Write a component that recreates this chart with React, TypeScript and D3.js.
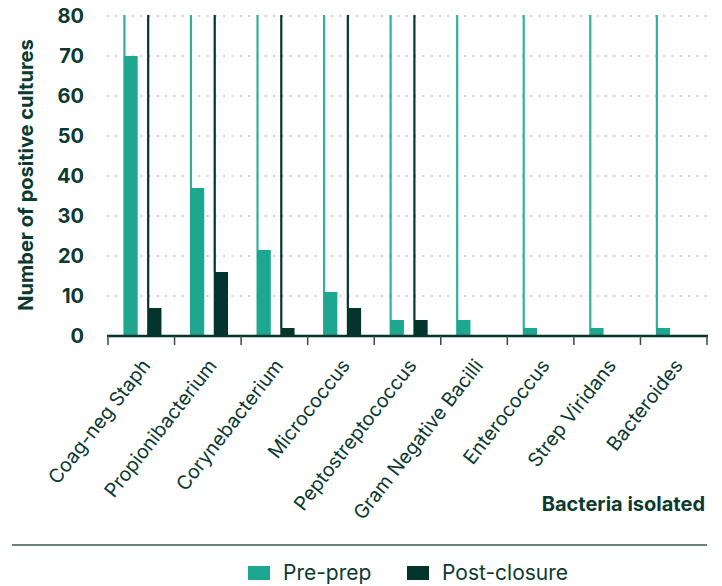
import React from "react";
import * as d3 from "d3";

const categories = [
  "Coag-neg Staph",
  "Propionibacterium",
  "Corynebacterium",
  "Micrococcus",
  "Peptostreptococcus",
  "Gram Negative Bacilli",
  "Enterococcus",
  "Strep Viridans",
  "Bacteroides",
];
const prePrep = [70, 37, 21.5, 11, 4, 4, 2, 2, 2];
const postClosure = [7, 16, 2, 7, 4, 0, 0, 0, 0];
const seriesNames = ["Pre-prep", "Post-closure"];
const yTicks = [0, 10, 20, 30, 40, 50, 60, 70, 80];

const W = 722;
const H = 586;
const TEAL = "#1da690";
const TEAL_LINE = "#30b19c";
const DARK = "#03352c";
const TEXT = "#0b3a30";
const FONT = "Inter, 'Noto Sans', sans-serif";

export default function App() {
  const x = d3.scaleBand<string>().domain(categories).range([108, 707]).padding(0);
  const inner = d3
    .scaleBand<string>()
    .domain(seriesNames)
    .range([0, x.bandwidth()])
    .paddingInner(0.4)
    .paddingOuter(0.6)
    .align(0.54);
  const y = d3.scaleLinear().domain([0, 80]).range([336, 16]);
  const colors = [TEAL, DARK];
  const lineColors = [TEAL_LINE, DARK];
  const series = [prePrep, postClosure];
  const boundaries = categories.map((c) => x(c) as number).concat([707]);

  return (
    <svg
      width={W}
      height={H}
      style={{ position: "absolute", left: 0, top: 0, display: "block", background: "#fff" }}
      fontFamily={FONT}
    >
      {/* gridlines */}
      {yTicks
        .filter((t) => t > 0)
        .map((t) => (
          <line
            key={"g" + t}
            x1={107}
            x2={708}
            y1={y(t)}
            y2={y(t)}
            stroke="#cfcfcf"
            strokeWidth={2}
            strokeDasharray="2 6.3"
          />
        ))}
      {/* y tick labels */}
      {yTicks.map((t) => (
        <text
          key={"yt" + t}
          x={84}
          y={y(t)}
          dy="0.36em"
          textAnchor="end"
          fontSize={20}
          fontWeight={700}
          fill={TEXT}
        >
          {t}
        </text>
      ))}
      {/* y title */}
      <text
        transform={`translate(33,${175}) rotate(-90)`}
        textAnchor="middle"
        fontSize={20}
        fontWeight={700}
        fill={TEXT}
      >
        Number of positive cultures
      </text>
      {/* bars + vertical lines */}
      {categories.map((c, i) =>
        series.map((s, k) => {
          const v = s[i];
          if (v <= 0) return null;
          const bx = (x(c) as number) + (inner(seriesNames[k]) as number);
          return (
            <g key={c + k}>
              <line
                x1={bx + 1}
                x2={bx + 1}
                y1={y(80) - 1}
                y2={y(v)}
                stroke={lineColors[k]}
                strokeWidth={2.2}
              />
              <rect
                x={bx}
                y={y(v)}
                width={inner.bandwidth()}
                height={y(0) - y(v)}
                fill={colors[k]}
              />
            </g>
          );
        })
      )}
      {/* x axis */}
      <line x1={107} x2={708} y1={336} y2={336} stroke={DARK} strokeWidth={2.4} />
      {boundaries.map((b, i) => (
        <line key={"tk" + i} x1={b} x2={b} y1={336} y2={345} stroke="#2f4d46" strokeWidth={1.5} />
      ))}
      {/* x labels */}
      {categories.map((c) => {
        const cx = (x(c) as number) + x.bandwidth() / 2;
        return (
          <text
            key={"xl" + c}
            transform={`translate(${cx + 10},${366}) rotate(-52)`}
            textAnchor="end"
            fontSize={19.5}
            fontWeight={400}
            fill={TEXT}
          >
            {c}
          </text>
        );
      })}
      {/* x title */}
      <text x={705} y={511} textAnchor="end" fontSize={20} fontWeight={700} fill={TEXT}>
        Bacteria isolated
      </text>
      {/* separator */}
      <line x1={12} x2={707} y1={545} y2={545} stroke="#3d5750" strokeWidth={1.5} />
      {/* legend */}
      <rect x={248} y={566} width={22} height={14} fill={TEAL} />
      <text x={283} y={580} fontSize={21} fill={TEXT}>
        {seriesNames[0]}
      </text>
      <rect x={407} y={566} width={22} height={14} fill={DARK} />
      <text x={442} y={580} fontSize={21} fill={TEXT}>
        {seriesNames[1]}
      </text>
    </svg>
  );
}
